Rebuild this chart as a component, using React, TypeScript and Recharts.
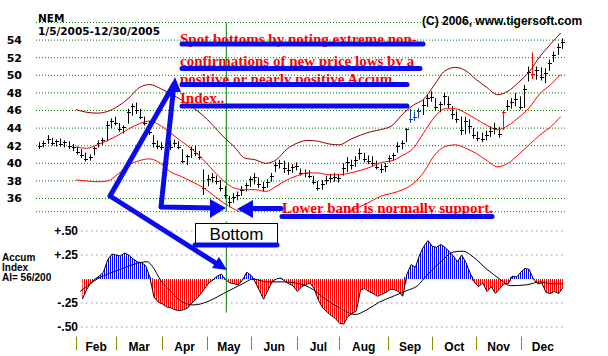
import React from 'react'
import {
  Area,
  Bar,
  CartesianGrid,
  ComposedChart,
  Line,
  ReferenceLine,
  XAxis,
  YAxis
} from 'recharts'

const W = 608
const H = 356
const PLOT_LEFT = 36
const PLOT_RIGHT = 565
const DAY_DOMAIN: [number, number] = [-1, 250]
const PX_PER_DAY = (PLOT_RIGHT - PLOT_LEFT) / (DAY_DOMAIN[1] - DAY_DOMAIN[0])

// NEM daily bars grouped by two trading days (day 0 = Jan 5 2005)
const barHighs = [
  42.4, 42.6, 43.2, 42.9, 42.7, 42.8, 42.6, 42.5, 42.2, 41.9,
  41.6, 41.2, 41.0, 41.9, 42.6, 42.9, 44.8, 45.1, 45.3, 44.6,
  44.3, 46.2, 46.8, 46.9, 46.2, 45.3, 44.8, 43.2, 42.6, 42.4,
  42.6, 42.6, 42.7, 42.5, 41.6, 41.0, 41.9, 42.0, 41.4, 39.3,
  38.7, 38.9, 38.6, 38.1, 37.4, 36.3, 36.6, 36.8, 37.4, 37.8,
  38.5, 38.9, 38.4, 37.9, 38.2, 38.9, 40.2, 40.4, 40.3, 40.1,
  39.9, 40.1, 39.4, 39.3, 39.2, 38.6, 38.0, 38.1, 38.6, 38.8,
  38.9, 38.8, 40.0, 40.7, 40.4, 40.8, 41.7, 41.2, 40.9, 40.8,
  40.3, 39.9, 40.0, 40.9, 41.2, 42.4, 42.6, 44.0, 46.2, 45.9,
  46.3, 47.2, 47.8, 48.2, 47.4, 47.0, 48.0, 47.6, 46.5, 45.9,
  45.3, 45.3, 45.0, 44.0, 43.6, 43.5, 43.7, 44.2, 44.6, 44.1,
  46.0, 47.2, 47.4, 48.0, 47.6, 48.9, 51.0, 52.6, 51.0, 50.9,
  50.8, 51.8, 52.7, 53.6, 54.2
]
const barLows = [
  41.6, 41.8, 42.2, 42.0, 41.9, 41.9, 41.8, 41.6, 41.4, 41.0,
  40.6, 40.2, 40.3, 40.9, 41.8, 42.1, 42.5, 44.0, 44.3, 43.6,
  43.4, 44.5, 45.4, 45.6, 45.0, 44.3, 43.2, 41.8, 41.6, 41.5,
  41.3, 41.5, 41.8, 41.6, 40.0, 39.8, 40.6, 40.8, 40.4, 36.4,
  37.4, 37.8, 37.6, 36.8, 36.0, 35.0, 35.5, 35.8, 36.3, 36.8,
  37.3, 37.6, 37.2, 36.8, 37.2, 37.9, 39.0, 39.4, 38.9, 38.7,
  38.9, 39.2, 38.6, 38.4, 38.3, 37.6, 36.9, 37.0, 37.6, 37.8,
  37.9, 37.8, 38.6, 39.0, 39.3, 39.6, 40.4, 40.1, 39.9, 39.7,
  39.3, 38.9, 39.0, 40.1, 40.3, 41.2, 41.6, 42.4, 44.6, 44.8,
  45.1, 45.5, 46.4, 47.0, 46.0, 45.8, 46.6, 46.3, 45.0, 44.6,
  43.2, 43.3, 43.4, 42.8, 42.5, 42.4, 42.6, 43.0, 43.3, 42.9,
  43.8, 46.0, 46.2, 46.5, 46.1, 46.3, 49.3, 49.6, 49.5, 49.4,
  49.1, 50.5, 51.5, 52.3, 53.0
]
const barCloses = [
  42.0, 42.3, 42.8, 42.3, 42.5, 42.2, 42.4, 42.0, 41.8, 41.3,
  40.9, 40.5, 40.7, 41.7, 42.3, 42.6, 44.4, 44.8, 44.6, 43.9,
  44.1, 45.8, 46.5, 46.0, 45.3, 44.6, 43.6, 42.3, 42.0, 41.9,
  42.2, 41.9, 42.3, 41.9, 40.3, 40.8, 41.6, 41.2, 40.7, 37.2,
  38.2, 38.5, 38.0, 37.2, 36.4, 35.6, 36.2, 36.4, 37.0, 37.5,
  38.2, 38.4, 37.6, 37.3, 37.9, 38.6, 39.8, 40.0, 39.5, 39.2,
  39.6, 39.7, 38.9, 38.9, 38.6, 37.9, 37.2, 37.6, 38.1, 38.3,
  38.5, 38.3, 39.5, 40.2, 39.8, 40.4, 41.2, 40.5, 40.3, 40.0,
  39.6, 39.3, 39.7, 40.6, 40.9, 42.0, 42.3, 43.9, 45.0, 45.3,
  45.9, 46.6, 47.4, 47.5, 46.4, 46.7, 47.6, 46.7, 45.6, 45.0,
  43.8, 44.8, 44.2, 43.2, 42.9, 42.8, 43.2, 43.7, 44.0, 43.3,
  45.8, 46.5, 47.0, 47.3, 46.4, 48.4, 50.4, 50.2, 50.6, 49.8,
  50.3, 51.4, 52.3, 53.2, 53.8
]
const blueBars = [88, 89, 90]
const redBars = [110, 117]

// trading bands
const bandDays = [
  18, 23, 28, 33, 38, 43, 48, 53, 58, 63, 68, 73, 78, 83, 88, 93,
  98, 103, 108, 113, 118, 123, 128, 133, 138, 143, 148, 153, 158, 163, 168, 173,
  178, 183, 188, 193, 198, 203, 208, 213, 218, 223, 228, 233, 238, 243, 248
]
const upperBand = [
  46.1, 45.8, 45.7, 45.9, 46.5, 47.4, 48.6, 48.95, 48.5, 47.9, 47.2, 46.4, 45.5, 44.3, 43.0, 41.9,
  40.6, 40.4, 40.0, 40.4, 41.6, 42.3, 42.6, 42.5, 42.2, 42.1, 42.7, 43.2, 43.6, 43.85, 44.3, 45.6,
  46.6, 47.3, 48.9, 50.5, 50.9, 50.5, 49.5, 48.6, 47.8, 48.2, 49.2, 50.4, 52.1, 53.5, 54.8
]
const middleBand = [
  41.85, 41.7, 42.1, 42.6, 43.2, 43.9, 44.5, 44.8, 44.3, 43.4, 42.5, 41.6, 40.5, 39.2, 38.0, 37.2,
  37.0, 37.0, 36.8, 37.4, 38.1, 38.6, 38.9, 38.9, 38.7, 38.7, 38.9, 39.2, 39.6, 40.1, 40.3, 40.9,
  41.7, 43.5, 45.2, 46.2, 46.2, 45.7, 45.0, 44.3, 43.8, 44.3, 45.2, 46.3, 47.9, 48.9, 50.1
]
const lowerBand = [
  38.1, 38.0, 37.9, 38.0, 38.8, 39.8, 40.3, 40.5, 40.0, 39.0, 38.5, 37.9, 37.3, 36.4, 35.5, 34.8,
  34.2, 33.8, 33.6, 33.6, 33.6, 33.5, 33.5, 33.6, 33.8, 34.1, 34.6, 35.1, 35.7, 36.3, 36.6, 37.0,
  37.7, 39.0, 40.9, 41.9, 42.1, 41.7, 41.1, 40.3, 39.6, 40.0, 41.0, 42.1, 43.2, 44.1, 45.3
]

// Accumulation Index, every second trading day from day 21
const aiValues = [
  -0.21, -0.11, -0.04, 0.0, 0.03, 0.07, 0.2, 0.26, 0.25, 0.24,
  0.27, 0.25, 0.21, 0.18, 0.17, 0.14, 0.02, -0.19, -0.24, -0.26,
  -0.29, -0.3, -0.32, -0.33, -0.32, -0.3, -0.25, -0.21, -0.16, -0.1,
  -0.04, -0.01, 0.03, 0.05, -0.01, -0.04, -0.05, -0.06, -0.01, 0.07,
  0.04, -0.03, -0.12, -0.21, -0.12, -0.03, 0.0, 0.01, -0.02, -0.05,
  -0.07, -0.13, -0.08, -0.06, -0.04, -0.1, -0.22, -0.3, -0.34, -0.38,
  -0.41, -0.46, -0.47, -0.39, -0.36, -0.33, -0.11, -0.1, -0.13, -0.15,
  -0.18, -0.16, -0.14, -0.11, -0.11, -0.13, -0.18, 0.05, 0.15, 0.12,
  0.25, 0.34, 0.4, 0.34, 0.33, 0.36, 0.33, 0.29, 0.24, 0.18,
  0.25, 0.17, 0.06, -0.03, -0.08, -0.04, -0.13, -0.08, -0.15, -0.1,
  -0.05, -0.05, 0.03, 0.02, 0.07, 0.11, 0.1, 0.0, -0.05, -0.04,
  -0.14, -0.15, -0.13, -0.15, -0.09
]
const maDays = [
  20, 24.7, 28, 34, 39, 43.6, 48.4, 51.7, 54.6, 58, 62.6, 66, 69.7, 73.5, 77, 83,
  88, 92.5, 97, 102, 108.6, 116, 124, 130.5, 134, 143, 150.5, 156, 162, 168.5, 175, 180,
  184.5, 190.7, 197, 201.6, 206.4, 213, 219, 224, 232, 238, 244, 249
]
const maValues = [
  -0.13, -0.05, 0.0, 0.06, 0.1, 0.14, 0.17, 0.18, 0.12, -0.01, -0.12, -0.2, -0.25, -0.27, -0.26, -0.21,
  -0.15, -0.1, -0.05, 0.0, -0.03, -0.03, -0.05, -0.11, -0.17, -0.3, -0.37, -0.32, -0.24, -0.18, -0.12, -0.07,
  0.04, 0.17, 0.28, 0.29, 0.23, 0.1, 0.0, -0.07, -0.06, -0.03, -0.05, -0.05
]

const priceTicks = [36, 38, 40, 42, 44, 46, 48, 50, 52, 54]
const aiTicks = [0.5, 0.25, -0.25, -0.5]
const aiTickLabels = ['+.50', '+.25', '-.25', '-.50']
const monthStarts = [18, 37, 59, 80, 101, 123, 143, 166, 187, 208, 229]
const monthLabels = ['Feb', 'Mar', 'Apr', 'May', 'Jun', 'Jul', 'Aug', 'Sep', 'Oct', 'Nov', 'Dec']
const yearEndDay = 250
const bottomDay = 89.3

const priceRows = barHighs.map((high, k) => ({
  day: 2 * k + 0.5,
  high,
  low: barLows[k],
  close: barCloses[k]
}))
const bandRows = bandDays.map((day, i) => ({
  day,
  upper: upperBand[i],
  middle: middleBand[i],
  lower: lowerBand[i]
}))
const aiRows = aiValues.map((ai, i) => ({ day: 21 + 2 * i, ai }))
const maRows = maDays.map((day, i) => ({ day, ma: maValues[i] }))

const SANS = 'Arial, "Liberation Sans", sans-serif'
const WIDE = '"DejaVu Sans", Verdana, sans-serif'
const SERIF = '"Times New Roman", "Liberation Serif", serif'
const BLUE = '#0a0af0'

function PriceBar(props: any) {
  const { x, y, width, height, payload, index } = props
  if (x == null || y == null || height == null) return null
  const cx = Math.round(x + width / 2) + 0.5
  const top = Math.min(y, y + height)
  const span = Math.abs(height)
  const yc = Math.round(top + ((payload.high - payload.close) / (payload.high - payload.low)) * span) + 0.5
  const color = redBars.includes(index) ? '#ff0000' : blueBars.includes(index) ? '#1c3c9c' : '#000000'
  return (
    <g>
      <line x1={cx} x2={cx} y1={top} y2={top + span} stroke={color} strokeWidth={1} />
      <line x1={cx - 1.5} x2={cx + 2.5} y1={yc} y2={yc} stroke={color} strokeWidth={1} />
    </g>
  )
}

function MonthTick(props: any) {
  const { x, y, index, payload } = props
  const next = index + 1 < monthStarts.length ? monthStarts[index + 1] : yearEndDay
  const half = ((next - payload.value) * PX_PER_DAY) / 2
  const lx = Math.round(x) + 0.5
  return (
    <g>
      <line x1={lx} x2={lx} y1={y} y2={y + 13.5} stroke="#8c8c00" strokeWidth={1} />
      <text x={x + half} y={y + 14.5} textAnchor="middle" fontFamily={SANS} fontWeight={700} fontSize={12} fill="#000">
        {monthLabels[index]}
      </text>
    </g>
  )
}

function AiTick(props: any) {
  const { x, y, index } = props
  return (
    <text x={x + 42} y={y} dy="0.36em" textAnchor="end" fontFamily={SANS} fontWeight={700} fontSize={12} fill="#000">
      {aiTickLabels[index]}
    </text>
  )
}

function Annotations() {
  const lines = [
    { text: 'Spot bottoms by noting extreme non-', y: 44, uy: 44, ux: 423 },
    { text: 'confirmations of new price lows by a', y: 66, uy: 68.5, ux: 420 },
    { text: 'positive or nearly positive Accum.', y: 84, uy: 84.5, ux: 407 },
    { text: 'Index..', y: 103, uy: 106, ux: 407 }
  ]
  return (
    <svg width={W} height={H} style={{ position: 'absolute', left: 0, top: 0 }}>
      <text x={38} y={22} fontFamily={WIDE} fontWeight={700} fontSize={10.5}>NEM</text>
      <text x={38} y={35} fontFamily={WIDE} fontWeight={700} fontSize={10.5}>1/5/2005-12/30/2005</text>
      <text x={422} y={25} fontFamily={SANS} fontWeight={700} fontSize={12}>(C) 2006, www.tigersoft.com</text>

      <text x={2} y={261} fontFamily={SANS} fontWeight={700} fontSize={10}>Accum</text>
      <text x={2} y={271} fontFamily={SANS} fontWeight={700} fontSize={10}>Index</text>
      <text x={2} y={281} fontFamily={SANS} fontWeight={700} fontSize={10}>AI= 56/200</text>

      {lines.map((l) => (
        <g key={l.text}>
          <text x={180} y={l.y} fontFamily={SERIF} fontWeight={700} fontSize={15} fill="#ff0000">
            {l.text}
          </text>
          <line x1={182} x2={l.ux} y1={l.uy} y2={l.uy} stroke={BLUE} strokeWidth={5} strokeLinecap="round" />
        </g>
      ))}

      <polyline
        points="222,267 110,196 174,84 161,207 214,208"
        fill="none"
        stroke={BLUE}
        strokeWidth={5}
        strokeLinejoin="round"
      />
      <polygon points="175,77 168,92 181,92" fill={BLUE} />
      <polygon points="227,270 212,268 219,257" fill={BLUE} />
      <polygon points="226,208 210,199 210,218" fill={BLUE} />
      <line x1={250} x2={281} y1={208.5} y2={208.5} stroke={BLUE} strokeWidth={5} strokeLinecap="round" />
      <polygon points="237,209 253,200 253,218" fill={BLUE} />

      <text x={282} y={213} fontFamily={SERIF} fontWeight={700} fontSize={15} fill="#ff0000">
        Lower band is normally support.
      </text>
      <line x1={282} x2={492} y1={216.5} y2={216.5} stroke={BLUE} strokeWidth={5} strokeLinecap="round" />

      <rect x={195.5} y={223.5} width={82} height={20} fill="#fff" stroke="#000" strokeWidth={1} />
      <text x={236.5} y={240} textAnchor="middle" fontFamily={SANS} fontSize={17} fill="#000">
        Bottom
      </text>
      <line x1={195} x2={277} y1={245} y2={245} stroke={BLUE} strokeWidth={5} strokeLinecap="round" />
    </svg>
  )
}

export default function App() {
  return (
    <div style={{ position: 'absolute', left: 0, top: 0, width: W, height: H, background: '#fff', overflow: 'hidden' }}>
      <svg width={0} height={0} style={{ position: 'absolute' }}>
        <defs>
          <pattern id="aiRed" patternUnits="userSpaceOnUse" width={2} height={8}>
            <rect x={0} y={0} width={1} height={8} fill="#ff0000" />
          </pattern>
          <pattern id="aiBlue" patternUnits="userSpaceOnUse" width={2} height={8}>
            <rect x={0} y={0} width={1} height={8} fill="#0000ff" />
          </pattern>
        </defs>
      </svg>

      <div style={{ position: 'absolute', left: 0, top: 0 }}>
        <ComposedChart
          width={W}
          height={H}
          data={priceRows}
          margin={{ top: 22.5, right: W - PLOT_RIGHT, bottom: H - 211.7, left: 0 }}
        >
          <CartesianGrid vertical={false} stroke="#008000" strokeDasharray="1 2" />
          <XAxis dataKey="day" type="number" domain={DAY_DOMAIN} allowDataOverflow hide />
          <YAxis
            type="number"
            domain={[34.5, 56]}
            ticks={priceTicks}
            interval={0}
            allowDataOverflow
            width={PLOT_LEFT}
            axisLine={false}
            tickLine={false}
            tickSize={0}
            tickMargin={14}
            tick={{ fill: '#000', fontSize: 11, fontWeight: 700, fontFamily: WIDE }}
          />
          <Line data={bandRows} dataKey="upper" type="monotone" stroke="#8b0000" strokeWidth={1} dot={false} isAnimationActive={false} />
          <Line data={bandRows} dataKey="middle" type="monotone" stroke="#ff0000" strokeWidth={1} dot={false} isAnimationActive={false} />
          <Line data={bandRows} dataKey="lower" type="monotone" stroke="#ff0000" strokeWidth={1} dot={false} isAnimationActive={false} />
          <Bar
            dataKey={(d: any) => [d.low, d.high]}
            barSize={3}
            shape={(p: any) => <PriceBar {...p} />}
            isAnimationActive={false}
          />
          <ReferenceLine x={bottomDay} stroke="#008000" ifOverflow="visible" />
        </ComposedChart>
      </div>

      <div style={{ position: 'absolute', left: 0, top: 0 }}>
        <ComposedChart
          width={W}
          height={H}
          data={aiRows}
          margin={{ top: 221.4, right: W - PLOT_RIGHT, bottom: 0, left: 0 }}
        >
          <XAxis
            dataKey="day"
            type="number"
            domain={DAY_DOMAIN}
            allowDataOverflow
            ticks={monthStarts}
            interval={0}
            height={H - 336.6}
            axisLine={false}
            tickLine={false}
            tickSize={0}
            tickMargin={0}
            tick={(p: any) => <MonthTick {...p} />}
          />
          <YAxis
            type="number"
            domain={[-0.6, 0.6]}
            ticks={aiTicks}
            interval={0}
            allowDataOverflow
            width={PLOT_LEFT}
            axisLine={false}
            tickLine={false}
            tickSize={0}
            tickMargin={0}
            tick={(p: any) => <AiTick {...p} />}
          />
          {aiTicks.map((v) => (
            <ReferenceLine
              key={v}
              segment={[{ x: 20.5, y: v }, { x: DAY_DOMAIN[1], y: v }]}
              stroke="#7a4a7a"
              strokeDasharray="1 4"
            />
          ))}
          <Area
            dataKey={(d: any) => Math.max(d.ai, 0)}
            baseValue={0}
            type="linear"
            stroke="none"
            fill="url(#aiBlue)"
            fillOpacity={1}
            isAnimationActive={false}
          />
          <Area
            dataKey={(d: any) => Math.min(d.ai, 0)}
            baseValue={0}
            type="linear"
            stroke="none"
            fill="url(#aiRed)"
            fillOpacity={1}
            isAnimationActive={false}
          />
          <Line dataKey="ai" type="linear" stroke="#000" strokeWidth={1} dot={false} isAnimationActive={false} />
          <Line data={maRows} dataKey="ma" type="monotone" stroke="#000" strokeWidth={1} dot={false} isAnimationActive={false} />
          <ReferenceLine
            segment={[{ x: bottomDay, y: 0.6 }, { x: bottomDay, y: -0.35 }]}
            stroke="#008000"
          />
        </ComposedChart>
      </div>

      <Annotations />
    </div>
  )
}
